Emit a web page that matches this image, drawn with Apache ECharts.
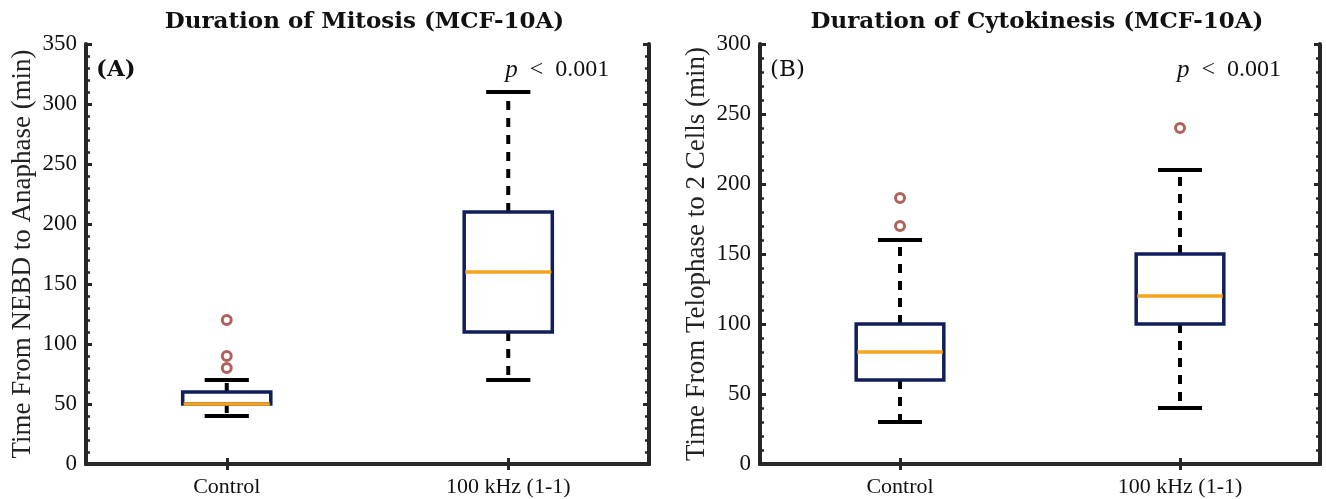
<!DOCTYPE html>
<html>
<head>
<meta charset="utf-8">
<script src="https://cdn.jsdelivr.net/npm/echarts@6/dist/echarts.min.js"></script>
<style>
  html, body { margin: 0; padding: 0; background: #fff; }
  #chart { width: 1326px; height: 499px; }
</style>
</head>
<body>
<div id="chart"></div>
<script>
// Groups shown on both panels
const categories = ['Control', '100 kHz (1-1)'];

// Mitosis (NEBD -> anaphase), minutes: [lower whisker, Q1, median, Q3, upper whisker]
const mitosisControl = [40, 50, 50, 60, 70];
const mitosisTreated = [70, 110, 160, 210, 310];
const mitosisControlOutliers = [80, 90, 120];
const mitosisTreatedOutliers = [];

// Cytokinesis (telophase -> 2 cells), minutes
const cytoControl = [30, 60, 80, 100, 160];
const cytoTreated = [40, 100, 120, 150, 210];
const cytoControlOutliers = [170, 190];
const cytoTreatedOutliers = [240];

// Axis ranges / ticks
const mitosisMax = 350;
const cytoMax = 300;
const tickStep = 50;

const panelTitles = ['Duration of Mitosis (MCF-10A)', 'Duration of Cytokinesis (MCF-10A)'];
const yNames = ['Time From NEBD to Anaphase (min)', 'Time From Telophase to 2 Cells (min)'];
const panelTags = ['(A)', '(B)'];
const pLabel = '{i|p}\u2002<\u20020.001';

const AXIS = '#262626';
const BOX = '#0f1e5c';
const MEDIAN = '#f5a31d';
const OUTLIER = '#b0625a';
const SERIF = '"Liberation Serif", "Times New Roman", serif';

const chart = echarts.init(document.getElementById('chart'), null, { renderer: 'canvas' });

const grids = [
  { left: 86, top: 44, width: 563, height: 420 },
  { left: 760, top: 44, width: 560, height: 420 }
];

function xAxes(gi) {
  const base = {
    type: 'category', data: categories, gridIndex: gi, boundaryGap: true,
    axisLine: { show: true, lineStyle: { color: AXIS, width: 4 } },
    axisTick: { show: true, inside: true, alignWithLabel: true, length: 6, lineStyle: { color: AXIS, width: 3 } },
    splitLine: { show: false }
  };
  return [
    Object.assign({}, base, { position: 'bottom',
      axisLabel: { show: true, color: '#111', fontFamily: SERIF, fontSize: 22, margin: 12 } }),
    Object.assign({}, base, { position: 'top', axisLabel: { show: false } })
  ];
}

function yAxes(gi, max, name, nameGap) {
  const base = {
    type: 'value', gridIndex: gi, min: 0, max: max, interval: tickStep,
    axisLine: { show: true, lineStyle: { color: AXIS, width: 4 } },
    axisTick: { show: true, inside: true, length: 6, lineStyle: { color: AXIS, width: 3 } },
    minorTick: { show: true, splitNumber: 5, length: 4, lineStyle: { color: AXIS, width: 2.5 } },
    splitLine: { show: false }, minorSplitLine: { show: false }
  };
  return [
    Object.assign({}, base, { position: 'left',
      name: name, nameLocation: 'middle', nameRotate: 90, nameGap: nameGap,
      nameTextStyle: { color: '#222', fontFamily: SERIF, fontSize: 27 },
      axisLabel: { show: true, color: '#111', fontFamily: SERIF, fontSize: 23, margin: 9 } }),
    Object.assign({}, base, { position: 'right', axisLabel: { show: false } })
  ];
}

// Box: navy outline, orange median, dashed black whiskers with solid caps
function renderBox(params, api) {
  const xi = api.value(0);
  const lo = api.value(1), q1 = api.value(2), med = api.value(3), q3 = api.value(4), hi = api.value(5);
  const band = api.size([1, 0])[0];
  const bw = band * 0.313 / 2;
  const cw = band * 0.157 / 2;
  const pLo = api.coord([xi, lo]), pQ1 = api.coord([xi, q1]), pMed = api.coord([xi, med]);
  const pQ3 = api.coord([xi, q3]), pHi = api.coord([xi, hi]);
  const cx = pMed[0];
  const whisker = { stroke: '#000', lineWidth: 4, lineDash: [9, 8], fill: null };
  const cap = { stroke: '#000', lineWidth: 4 };
  const children = [];
  if (hi > q3) {
    children.push({ type: 'line', shape: { x1: cx, y1: pQ3[1], x2: cx, y2: pHi[1] }, style: whisker });
  }
  if (lo < q1) {
    children.push({ type: 'line', shape: { x1: cx, y1: pQ1[1], x2: cx, y2: pLo[1] }, style: whisker });
  }
  children.push({ type: 'line', shape: { x1: cx - cw, y1: pHi[1], x2: cx + cw, y2: pHi[1] }, style: cap });
  children.push({ type: 'line', shape: { x1: cx - cw, y1: pLo[1], x2: cx + cw, y2: pLo[1] }, style: cap });
  children.push({ type: 'rect', shape: { x: cx - bw, y: pQ3[1], width: bw * 2, height: pQ1[1] - pQ3[1] },
    style: { fill: '#fff', stroke: BOX, lineWidth: 3.5 } });
  children.push({ type: 'line', shape: { x1: cx - bw + 1, y1: pMed[1], x2: cx + bw - 1, y2: pMed[1] },
    style: { stroke: MEDIAN, lineWidth: 3.5 } });
  return { type: 'group', children: children };
}

function boxSeries(gi, stats) {
  return {
    type: 'custom', xAxisIndex: gi * 2, yAxisIndex: gi * 2,
    renderItem: renderBox,
    encode: { x: 0, y: [1, 2, 3, 4, 5] },
    data: stats.map((s, i) => [i].concat(s)),
    silent: true, z: 3
  };
}

function outlierSeries(gi, lists) {
  const pts = [];
  lists.forEach((vals, i) => vals.forEach(v => pts.push([i, v])));
  return {
    type: 'scatter', xAxisIndex: gi * 2, yAxisIndex: gi * 2,
    symbol: 'circle', symbolSize: 9,
    itemStyle: { color: '#fff', borderColor: OUTLIER, borderWidth: 3, opacity: 1 },
    data: pts, silent: true, z: 4
  };
}

function panelText(gi) {
  const g = grids[gi];
  const cx = g.left + g.width / 2;
  return [
    { type: 'text', x: cx - 3, y: 22, style: { text: panelTitles[gi], fontFamily: '"DejaVu Serif", serif',
        fontWeight: 'bold', fontSize: 23, fill: '#111', align: 'center', verticalAlign: 'middle' } },
    { type: 'text', x: g.left + 10, y: 70, style: { text: panelTags[gi], fontFamily: '"DejaVu Serif", serif',
        fontWeight: gi === 0 ? 'bold' : 'normal', fontSize: 23, fill: '#111', align: 'left', verticalAlign: 'middle' } },
    { type: 'text', x: g.left + g.width * 0.75 - 3, y: 70, style: { text: pLabel, fontFamily: SERIF,
        fontSize: 24, fill: '#111', align: 'left', verticalAlign: 'middle',
        rich: { i: { fontStyle: 'italic', fontFamily: SERIF, fontSize: 25 } } } }
  ];
}

const option = {
  animation: false,
  backgroundColor: '#fff',
  grid: grids,
  xAxis: xAxes(0).concat(xAxes(1)),
  yAxis: yAxes(0, mitosisMax, yNames[0], 50).concat(yAxes(1, cytoMax, yNames[1], 50)),
  series: [
    boxSeries(0, [mitosisControl, mitosisTreated]),
    outlierSeries(0, [mitosisControlOutliers, mitosisTreatedOutliers]),
    boxSeries(1, [cytoControl, cytoTreated]),
    outlierSeries(1, [cytoControlOutliers, cytoTreatedOutliers])
  ],
  graphic: panelText(0).concat(panelText(1))
};

chart.setOption(option);
</script>
</body>
</html>
